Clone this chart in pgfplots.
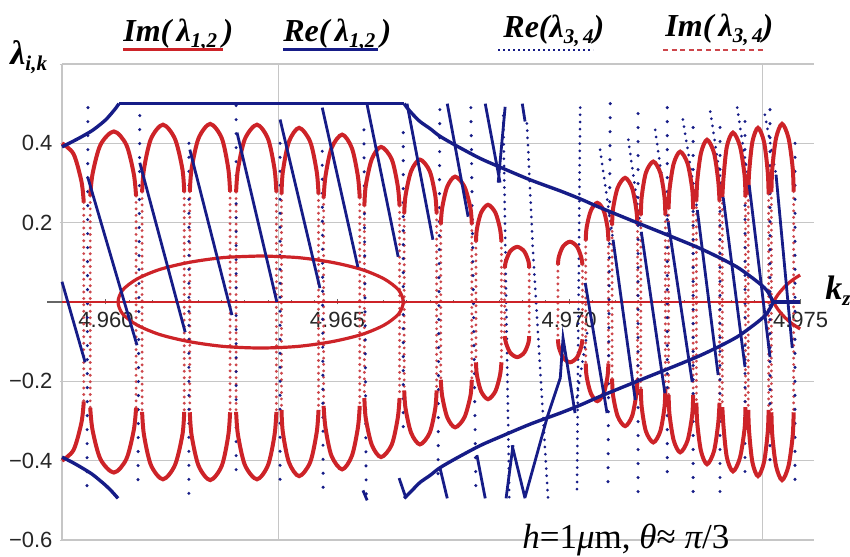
\documentclass[border=0pt]{standalone}
\usepackage{fontspec}
\setmainfont{Liberation Serif}
\newfontfamily\sansfont{Liberation Sans}
\usepackage{pgfplots}
\pgfplotsset{compat=1.18}
\usepackage{pgfplotstable}

\definecolor{imred}{RGB}{205,35,40}
\definecolor{dotred}{RGB}{205,70,75}
\definecolor{reblue}{RGB}{22,28,135}
\definecolor{gridgray}{RGB}{198,198,198}

\newcommand{\sub}[1]{\raisebox{-0.35ex}{\fontsize{10.5}{10.5}\selectfont #1}}
\newcommand{\legfont}{\fontsize{16}{18}\selectfont\bfseries\itshape}

% Im(lambda_{1,2}) > 0 : dense (solid) part of each arch
\pgfplotstableread{
x y
4.95905 0.400
4.95930 0.373
4.95947 0.304
4.95952 0.251
nan nan
4.95966 0.267
4.95971 0.323
4.95988 0.396
4.96017 0.430
4.96044 0.396
4.96060 0.323
4.96065 0.267
nan nan
4.96078 0.277
4.96082 0.335
4.96097 0.411
4.96123 0.447
4.96149 0.411
4.96165 0.335
4.96169 0.277
nan nan
4.96181 0.278
4.96185 0.337
4.96200 0.413
4.96225 0.449
4.96250 0.413
4.96264 0.337
4.96268 0.278
nan nan
4.96281 0.277
4.96285 0.335
4.96300 0.411
4.96326 0.447
4.96350 0.411
4.96364 0.335
4.96368 0.277
nan nan
4.96379 0.272
4.96382 0.329
4.96395 0.404
4.96417 0.439
4.96441 0.404
4.96455 0.329
4.96459 0.272
nan nan
4.96470 0.262
4.96474 0.317
4.96487 0.388
4.96510 0.422
4.96531 0.388
4.96544 0.317
4.96548 0.262
nan nan
4.96558 0.242
4.96561 0.293
4.96574 0.360
4.96594 0.391
4.96617 0.360
4.96630 0.293
4.96634 0.242
nan nan
4.96644 0.223
4.96647 0.269
4.96659 0.330
4.96678 0.359
4.96699 0.330
4.96711 0.269
4.96714 0.223
nan nan
4.96723 0.196
4.96726 0.237
4.96737 0.291
4.96754 0.316
4.96774 0.291
4.96787 0.237
4.96790 0.196
nan nan
4.96799 0.152
4.96801 0.184
4.96810 0.225
4.96825 0.245
4.96841 0.225
4.96851 0.184
4.96854 0.152
nan nan
4.96861 0.086
4.96864 0.104
4.96873 0.128
4.96888 0.139
4.96903 0.128
4.96912 0.104
4.96914 0.086
nan nan
4.96976 0.094
4.96978 0.114
4.96987 0.140
4.97002 0.152
4.97017 0.140
4.97026 0.114
4.97029 0.094
nan nan
4.97036 0.155
4.97038 0.188
4.97047 0.230
4.97061 0.250
4.97075 0.230
4.97083 0.188
4.97085 0.155
nan nan
4.97093 0.194
4.97095 0.235
4.97105 0.288
4.97121 0.313
4.97136 0.288
4.97145 0.235
4.97148 0.194
nan nan
4.97155 0.219
4.97157 0.266
4.97166 0.326
4.97182 0.354
4.97197 0.326
4.97206 0.266
4.97208 0.219
nan nan
4.97215 0.235
4.97217 0.284
4.97226 0.349
4.97240 0.379
4.97256 0.349
4.97266 0.284
4.97268 0.235
nan nan
4.97275 0.254
4.97277 0.307
4.97285 0.376
4.97298 0.409
4.97313 0.376
4.97322 0.307
4.97325 0.254
nan nan
4.97331 0.265
4.97334 0.320
4.97341 0.393
4.97354 0.427
4.97369 0.393
4.97379 0.320
4.97381 0.265
nan nan
4.97387 0.272
4.97389 0.329
4.97396 0.404
4.97408 0.439
4.97421 0.404
4.97429 0.329
4.97431 0.272
nan nan
4.97437 0.278
4.97439 0.337
4.97447 0.413
4.97460 0.449
4.97474 0.413
4.97483 0.337
4.97485 0.278
}\upcaps

% Im(lambda_{1,2}) < 0 : dense (solid) part of each arch
\pgfplotstableread{
x y
4.95905 -0.400
4.95930 -0.373
4.95947 -0.304
4.95952 -0.251
nan nan
4.95966 -0.267
4.95971 -0.323
4.95988 -0.396
4.96017 -0.430
4.96044 -0.396
4.96060 -0.323
4.96065 -0.267
nan nan
4.96078 -0.277
4.96082 -0.335
4.96097 -0.411
4.96123 -0.447
4.96149 -0.411
4.96165 -0.335
4.96169 -0.277
nan nan
4.96181 -0.278
4.96185 -0.337
4.96200 -0.413
4.96225 -0.449
4.96250 -0.413
4.96264 -0.337
4.96268 -0.278
nan nan
4.96281 -0.277
4.96285 -0.335
4.96300 -0.411
4.96326 -0.447
4.96350 -0.411
4.96364 -0.335
4.96368 -0.277
nan nan
4.96379 -0.272
4.96382 -0.329
4.96395 -0.404
4.96417 -0.439
4.96441 -0.404
4.96455 -0.329
4.96459 -0.272
nan nan
4.96470 -0.262
4.96474 -0.317
4.96487 -0.388
4.96510 -0.422
4.96531 -0.388
4.96544 -0.317
4.96548 -0.262
nan nan
4.96558 -0.242
4.96561 -0.293
4.96574 -0.360
4.96594 -0.391
4.96617 -0.360
4.96630 -0.293
4.96634 -0.242
nan nan
4.96644 -0.223
4.96647 -0.269
4.96659 -0.330
4.96678 -0.359
4.96699 -0.330
4.96711 -0.269
4.96714 -0.223
nan nan
4.96723 -0.196
4.96726 -0.237
4.96737 -0.291
4.96754 -0.316
4.96774 -0.291
4.96787 -0.237
4.96790 -0.196
nan nan
4.96799 -0.152
4.96801 -0.184
4.96810 -0.225
4.96825 -0.245
4.96841 -0.225
4.96851 -0.184
4.96854 -0.152
nan nan
4.96861 -0.086
4.96864 -0.104
4.96873 -0.128
4.96888 -0.139
4.96903 -0.128
4.96912 -0.104
4.96914 -0.086
nan nan
4.96976 -0.094
4.96978 -0.114
4.96987 -0.140
4.97002 -0.152
4.97017 -0.140
4.97026 -0.114
4.97029 -0.094
nan nan
4.97036 -0.155
4.97038 -0.188
4.97047 -0.230
4.97061 -0.250
4.97075 -0.230
4.97083 -0.188
4.97085 -0.155
nan nan
4.97093 -0.194
4.97095 -0.235
4.97105 -0.288
4.97121 -0.313
4.97136 -0.288
4.97145 -0.235
4.97148 -0.194
nan nan
4.97155 -0.219
4.97157 -0.266
4.97166 -0.326
4.97182 -0.354
4.97197 -0.326
4.97206 -0.266
4.97208 -0.219
nan nan
4.97215 -0.235
4.97217 -0.284
4.97226 -0.349
4.97240 -0.379
4.97256 -0.349
4.97266 -0.284
4.97268 -0.235
nan nan
4.97275 -0.254
4.97277 -0.307
4.97285 -0.376
4.97298 -0.409
4.97313 -0.376
4.97322 -0.307
4.97325 -0.254
nan nan
4.97331 -0.265
4.97334 -0.320
4.97341 -0.393
4.97354 -0.427
4.97369 -0.393
4.97379 -0.320
4.97381 -0.265
nan nan
4.97387 -0.272
4.97389 -0.329
4.97396 -0.404
4.97408 -0.439
4.97421 -0.404
4.97429 -0.329
4.97431 -0.272
nan nan
4.97437 -0.278
4.97439 -0.337
4.97447 -0.413
4.97460 -0.449
4.97474 -0.413
4.97483 -0.337
4.97485 -0.278
}\lowcaps

% Im(lambda_{3,4}) : sparse flanks through zero between the arches
\pgfplotstableread{
x y
4.95952 0.251
4.95952 -0.251
nan nan
4.95966 0.267
4.95966 -0.267
nan nan
4.96065 0.267
4.96065 -0.267
nan nan
4.96078 0.277
4.96078 -0.277
nan nan
4.96169 0.277
4.96169 -0.277
nan nan
4.96181 0.278
4.96181 -0.278
nan nan
4.96268 0.278
4.96268 -0.278
nan nan
4.96281 0.277
4.96281 -0.277
nan nan
4.96368 0.277
4.96368 -0.277
nan nan
4.96379 0.272
4.96379 -0.272
nan nan
4.96459 0.272
4.96459 -0.272
nan nan
4.96470 0.262
4.96470 -0.262
nan nan
4.96548 0.262
4.96548 -0.262
nan nan
4.96558 0.242
4.96558 -0.242
nan nan
4.96634 0.242
4.96634 -0.242
nan nan
4.96644 0.223
4.96644 -0.223
nan nan
4.96714 0.223
4.96714 -0.223
nan nan
4.96723 0.196
4.96723 -0.196
nan nan
4.96790 0.196
4.96790 -0.196
nan nan
4.96799 0.152
4.96799 -0.152
nan nan
4.96854 0.152
4.96854 -0.152
nan nan
4.96861 0.086
4.96861 -0.086
nan nan
4.96914 0.086
4.96914 -0.086
nan nan
4.96976 0.094
4.96976 -0.094
nan nan
4.97029 0.094
4.97029 -0.094
nan nan
4.97036 0.155
4.97036 -0.155
nan nan
4.97085 0.155
4.97085 -0.155
nan nan
4.97093 0.194
4.97093 -0.194
nan nan
4.97148 0.194
4.97148 -0.194
nan nan
4.97155 0.219
4.97155 -0.219
nan nan
4.97208 0.219
4.97208 -0.219
nan nan
4.97215 0.235
4.97215 -0.235
nan nan
4.97268 0.235
4.97268 -0.235
nan nan
4.97275 0.254
4.97275 -0.254
nan nan
4.97325 0.254
4.97325 -0.254
nan nan
4.97331 0.265
4.97331 -0.265
nan nan
4.97381 0.265
4.97381 -0.265
nan nan
4.97387 0.272
4.97387 -0.272
nan nan
4.97431 0.272
4.97431 -0.272
nan nan
4.97437 0.278
4.97437 -0.278
nan nan
4.97485 0.278
4.97485 -0.278
}\flanks

% Re(lambda_{3,4}) : sparse columns of points
\pgfplotstableread{
x y
4.95961 0.490
4.95959 -0.470
nan nan
4.96073 0.470
4.96069 -0.475
nan nan
4.96179 0.400
4.96179 -0.490
nan nan
4.96281 0.495
4.96281 -0.427
nan nan
4.96376 0.400
4.96376 -0.477
nan nan
4.96467 0.380
4.96469 -0.495
nan nan
4.96557 0.434
4.96562 -0.490
nan nan
4.96642 0.427
4.96642 -0.340
nan nan
4.96721 0.485
4.96717 -0.460
nan nan
4.96788 0.490
4.96799 -0.490
nan nan
4.97089 0.500
4.97084 -0.470
nan nan
4.97149 0.475
4.97149 -0.480
nan nan
4.97212 0.490
4.97212 -0.460
nan nan
4.97268 0.440
4.97268 -0.495
nan nan
4.97326 0.440
4.97326 -0.480
nan nan
4.97380 0.455
4.97380 -0.460
nan nan
4.97434 0.485
4.97434 -0.425
nan nan
4.97488 0.400
4.97488 -0.460
}\recolsparse

% Re(lambda_{3,4}) : dense columns and slanted runs of points
\pgfplotstableread{
x y
4.96858 0.470
4.96871 -0.500
nan nan
4.96909 0.450
4.96922 0.130
4.96955 -0.500
nan nan
4.97024 0.490
4.97017 -0.490
nan nan
4.97067 0.384
4.97095 0.157
nan nan
4.97128 0.409
4.97156 0.177
nan nan
4.97186 0.434
4.97214 0.202
nan nan
4.97246 0.460
4.97277 0.232
nan nan
4.97305 0.480
4.97333 0.263
nan nan
4.97363 0.490
4.97389 0.295
nan nan
4.97423 0.472
4.97447 0.321
nan nan
4.97017 -0.240
4.97039 -0.078
}\recoldense

% Re(lambda_{1,2}) : steep solid segments
\pgfplotstableread{
x y
4.95905 0.051
4.95955 -0.152
nan nan
4.95961 0.313
4.96067 -0.109
nan nan
4.96073 0.351
4.96171 -0.076
nan nan
4.96181 0.384
4.96272 -0.033
nan nan
4.96283 0.427
4.96369 0.000
nan nan
4.96376 0.460
4.96462 0.035
nan nan
4.96467 0.490
4.96544 0.088
nan nan
4.96564 0.497
4.96631 0.114
nan nan
4.96650 0.500
4.96706 0.157
nan nan
4.96737 0.500
4.96782 0.215
nan nan
4.96819 0.500
4.96851 0.301
nan nan
4.96862 0.492
4.96847 0.301
nan nan
4.96899 0.500
4.96905 0.455
nan nan
4.97035 0.048
4.97082 -0.280
nan nan
4.97095 0.157
4.97143 -0.247
nan nan
4.97156 0.177
4.97207 -0.230
nan nan
4.97214 0.202
4.97266 -0.202
nan nan
4.97277 0.232
4.97322 -0.184
nan nan
4.97333 0.263
4.97380 -0.164
nan nan
4.97389 0.295
4.97434 -0.139
nan nan
4.97447 0.321
4.97482 -0.116
nan nan
4.96721 -0.417
4.96737 -0.495
nan nan
4.96801 -0.386
4.96819 -0.495
nan nan
4.96877 -0.361
4.96905 -0.495
nan nan
4.96864 -0.495
4.96879 -0.361
nan nan
4.96905 -0.492
4.96953 -0.290
4.96981 -0.192
4.96987 -0.091
4.97013 -0.280
nan nan
4.96555 -0.475
4.96564 -0.500
nan nan
4.96633 -0.444
4.96648 -0.495
}\resteep

\begin{document}
\begin{tikzpicture}
\path[use as bounding box] (-31pt,-8pt) rectangle (394pt,270pt);
\begin{axis}[
  at={(0,0)}, anchor=south west,
  scale only axis, width=376pt, height=238pt,
  xmin=4.95905, xmax=4.97529, ymin=-0.6, ymax=0.6,
  clip=false,
  axis x line=middle, axis y line=left,
  x axis line style={draw=none},
  y axis line style={gridgray, line width=0.6pt, -},
  xtick={4.960,4.965,4.970,4.975},
  xticklabels={4.960,4.965,4.970,4.975},
  minor x tick num=9,
  ytick={-0.6,-0.4,-0.2,0.2,0.4},
  yticklabels={−0.6,−0.4,−0.2,0.2,0.4},
  ymajorgrids,
  extra y ticks={0.6}, extra y tick labels={},
  extra y tick style={grid=major},
  extra x ticks={4.96372,4.97417}, extra x tick labels={},
  extra x tick style={grid=major, major tick length=0pt},
  grid style={gridgray, line width=0.6pt},
  tick label style={font=\sansfont\fontsize{11}{13}\selectfont, text=black!85},
  x tick style={black!60, line width=0.5pt},
  y tick style={gridgray},
  major tick length=2.5pt, minor tick length=1.5pt,
  xticklabel style={yshift=-0.5pt},
  unbounded coords=jump,
]
% k_z axis
\draw[black!60, line width=0.6pt] (axis cs:4.95873,0) -- (axis cs:4.97499,0);

% Im(lambda_{3,4}) flanks
\addplot[dotred, line width=1.6pt, line cap=round, dash pattern=on 0pt off 3.2pt] table {\flanks};

% Re(lambda_{3,4}) point columns
\addplot[reblue, line width=1.7pt, line cap=round, dash pattern=on 0pt off 7pt] table {\recolsparse};
\addplot[reblue, line width=1.5pt, line cap=round, dash pattern=on 0pt off 3.6pt] table {\recoldense};

% Im(lambda_{1,2})
\addplot[imred, line width=1.4pt] coordinates {(4.95905,0) (4.97441,0)};
\addplot[imred, line width=2pt, smooth] table {\upcaps};
\addplot[imred, line width=2pt, smooth] table {\lowcaps};
\addplot[imred, line width=1.6pt, smooth] coordinates {
  (4.96334,0.116) (4.96414,0.112) (4.96488,0.100) (4.96552,0.082)
  (4.96601,0.058) (4.96632,0.030) (4.96642,0) (4.96632,-0.030)
  (4.96601,-0.058) (4.96552,-0.082) (4.96488,-0.100) (4.96414,-0.112)
  (4.96334,-0.116) (4.96254,-0.112) (4.96180,-0.100) (4.96116,-0.082)
  (4.96067,-0.058) (4.96036,-0.030) (4.96026,0) (4.96036,0.030)
  (4.96067,0.058) (4.96116,0.082) (4.96180,0.100) (4.96254,0.112)
  (4.96334,0.116)};
\addplot[imred, line width=1.6pt, smooth] coordinates {
  (4.97441,0) (4.97452,0.020) (4.97467,0.040) (4.97482,0.055) (4.97499,0.068)};
\addplot[imred, line width=1.6pt, smooth] coordinates {
  (4.97441,0) (4.97452,-0.020) (4.97467,-0.040) (4.97482,-0.055) (4.97499,-0.068)};

% Re(lambda_{1,2})
\addplot[reblue, line width=1.4pt] table {\resteep};
\addplot[reblue, line width=1.7pt, smooth] coordinates {
  (4.95905,0.391) (4.95927,0.404) (4.95948,0.417) (4.95970,0.432)
  (4.95987,0.447) (4.96000,0.460) (4.96013,0.477) (4.96022,0.490) (4.96028,0.500)};
\addplot[reblue, line width=1.7pt] coordinates {(4.96028,0.500) (4.96644,0.500)};
\addplot[reblue, line width=1.7pt, smooth] coordinates {
  (4.96644,0.500) (4.96650,0.490) (4.96661,0.475) (4.96678,0.455)
  (4.96700,0.437) (4.96721,0.418) (4.96758,0.393) (4.96808,0.362)
  (4.96851,0.340) (4.96916,0.308) (4.96981,0.280) (4.97024,0.260)
  (4.97067,0.238) (4.97153,0.197) (4.97240,0.156) (4.97283,0.135)
  (4.97326,0.111) (4.97363,0.088) (4.97391,0.065) (4.97413,0.045)
  (4.97428,0.028) (4.97441,0.000)};
\addplot[reblue, line width=1.7pt, smooth] coordinates {
  (4.96644,-0.495) (4.96650,-0.488) (4.96661,-0.475) (4.96678,-0.455)
  (4.96700,-0.437) (4.96721,-0.418) (4.96758,-0.393) (4.96808,-0.362)
  (4.96851,-0.340) (4.96916,-0.308) (4.96981,-0.280) (4.97024,-0.260)
  (4.97067,-0.238) (4.97153,-0.197) (4.97240,-0.156) (4.97283,-0.135)
  (4.97326,-0.111) (4.97363,-0.088) (4.97391,-0.065) (4.97413,-0.045)
  (4.97428,-0.028) (4.97441,0.000)};
\addplot[reblue, line width=1.7pt, smooth] coordinates {
  (4.95905,-0.391) (4.95927,-0.404) (4.95948,-0.418) (4.95970,-0.434)
  (4.95987,-0.450) (4.96000,-0.463) (4.96013,-0.478) (4.96026,-0.495)};
\addplot[reblue, line width=1.6pt] coordinates {(4.97441,0) (4.97499,0)};
\end{axis}

% axis names
\node[anchor=base west, inner sep=0pt] at (-26pt,237.5pt)
  {\fontsize{17}{19}\selectfont\bfseries\itshape λ\sub{i,k}};
\node[anchor=base west, inner sep=0pt] at (381.5pt,120pt)
  {\fontsize{17}{19}\selectfont\bfseries\itshape k\sub{z}};

% key
\node[anchor=base west, inner sep=0pt] at (30.5pt,249pt) {\legfont Im(\,λ\sub{1,2}\,)};
\draw[imred, line width=1.5pt] (30.5pt,245pt) -- (80.5pt,245pt);
\node[anchor=base west, inner sep=0pt] at (110.5pt,249pt) {\legfont Re(\,λ\sub{1,2}\,)};
\draw[reblue, line width=1.5pt] (110.5pt,245pt) -- (158pt,245pt);
\node[anchor=base west, inner sep=0pt] at (220.5pt,251pt) {\legfont Re(λ\sub{3,\,4})};
\draw[reblue, line width=1.2pt, dash pattern=on 1.2pt off 1.3pt] (218pt,245pt) -- (265.5pt,245pt);
\node[anchor=base west, inner sep=0pt] at (301.5pt,251.5pt) {\legfont Im(\,λ\sub{3,\,4})};
\draw[dotred, line width=1.2pt, dash pattern=on 2.5pt off 1.8pt] (300.5pt,245pt) -- (351.5pt,245pt);

% parameters
\node[anchor=base west, inner sep=0pt] at (230pt,-4pt)
  {\fontsize{17.5}{19}\selectfont\itshape h\upshape=1\itshape μ\upshape m, \itshape θ\upshape≈ \itshape π\upshape/3};
\end{tikzpicture}
\end{document}
